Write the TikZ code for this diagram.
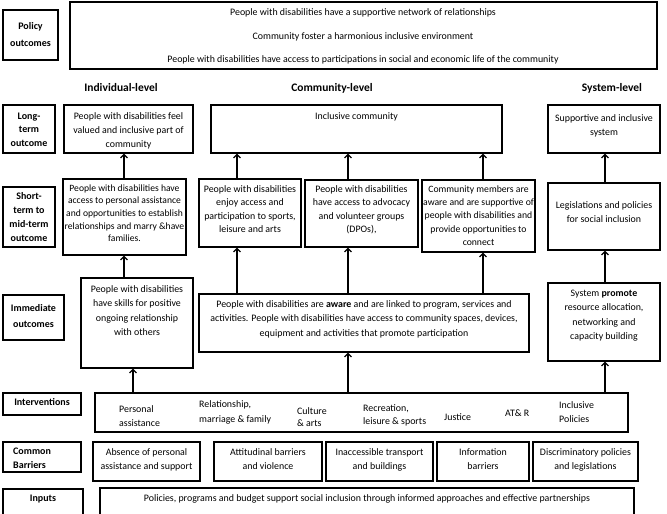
\documentclass[tikz,border=0pt]{standalone}
\usepackage{fontspec}
\setmainfont{Carlito}
\usetikzlibrary{fit,arrows.meta}
\begin{document}
\begin{tikzpicture}[x=1pt,y=-1pt,
  box/.style={draw=black, line width=1.05pt, inner sep=0pt, rectangle},
  txt/.style={inner sep=0pt, align=center, font=\fontsize{9.9}{#1}\selectfont},
  txt/.default=14,
  lbl/.style={inner sep=0pt, align=center, font=\bfseries\fontsize{10}{#1}\selectfont},
  lbl/.default=13.5,
  hdr/.style={inner sep=0pt, font=\bfseries\fontsize{11.5}{14}\selectfont},
  arr/.style={line width=1.3pt, -{Straight Barb[length=3.5pt,width=7pt]}}
]
\useasboundingbox (0,0) rectangle (667,514);
\clip (0,0) rectangle (667,514);

% columns for connectors
\coordinate (xA) at (124,0);
\coordinate (xB) at (133,0);
\coordinate (xC1) at (237,0);
\coordinate (xC2) at (348,0);
\coordinate (xC3) at (483,0);
\coordinate (xS) at (605,0);

% Policy outcomes
\node[box, fit={(3,10) (58,60)}] (polL) {};
\node[lbl=17] at (polL.center) {Policy\\outcomes};
\node[box, fit={(70,2) (657,69)}] (polB) {};
\node[txt] (p1) at (363,12.5) {People with disabilities have a supportive network of relationships};
\node[txt] (p2) at (363,36.5) {Community foster a harmonious inclusive environment};
\node[txt] (p3) at (363,60) {People with disabilities have access to participations in social and economic life of the community};

% headers
\node[hdr] (h1) at (121,88) {Individual-level};
\node[hdr] (h2) at (332,88) {Community-level};
\node[hdr] (h3) at (612,88) {System-level};

% Long-term
\node[box, fit={(3,105) (55,153)}] (ltL) {};
\node[lbl=13.5, anchor=north] at (29,112.4) {Long-\\term\\outcome};
\node[box, fit={(64,105) (193,153)}] (ltI) {};
\node[txt=14, anchor=north] at (128.5,112.4) {People with disabilities feel\\valued and inclusive part of\\community};
\node[box, fit={(211,105) (502,153)}] (ltC) {};
\node[txt] at (356.5,117) {Inclusive community};
\node[box, fit={(548,105) (660,153)}] (ltS) {};
\node[txt=14, anchor=north] at (604,114.4) {Supportive and inclusive\\system};

% Short to mid-term
\node[box, fit={(3,187) (55,247)}] (stL) {};
\node[lbl=14, anchor=north] at (29,192.4) {Short-\\term to\\mid-term\\outcome};
\node[box, fit={(63,179) (186,255)}] (stI) {};
\node[txt=12.6, anchor=north, font=\fontsize{9.6}{12.6}\selectfont] at (124.5,184.4) {People with disabilities have\\access to personal assistance\\and opportunities to establish\\relationships and marry \&have\\families.};
\node[box, fit={(199,179) (301,247)}] (stC1) {};
\node[txt=13.3, anchor=north] at (250,185.4) {People with disabilities\\enjoy access and\\participation to sports,\\leisure and arts};
\node[box, fit={(305,180) (418,247)}] (stC2) {};
\node[txt=13.3, anchor=north] at (361.5,185.4) {People with disabilities\\have access to advocacy\\and volunteer groups\\(DPOs),};
\node[box, fit={(422,180) (535,252)}] (stC3) {};
\node[txt=13.3, anchor=north, font=\fontsize{9.7}{13.3}\selectfont] at (478.5,185.4) {Community members are\\aware and are supportive of\\people with disabilities and\\provide opportunities to\\connect};
\node[box, fit={(548,183) (660,250)}] (stS) {};
\node[txt=14, anchor=north] at (604,201.4) {Legislations and policies\\for social inclusion};

% Immediate
\node[box, fit={(3,295) (64,340)}] (imL) {};
\node[lbl=16, anchor=north] at (33.5,304.4) {Immediate\\outcomes};
\node[box, fit={(81,278) (193,368)}] (imI) {};
\node[txt=14.5, anchor=north] at (137,285.4) {People with disabilities\\have skills for positive\\ongoing relationship\\with others};
\node[box, fit={(199,294) (529,352)}] (imC) {};
\node[txt=14.5, anchor=north] at (364,300.4) {People with disabilities are \textbf{aware} and are linked to program, services and\\activities. People with disabilities have access to community spaces, devices,\\equipment and activities that promote participation};
\node[box, fit={(548,283) (660,361)}] (imS) {};
\node[txt=14.5, anchor=north] at (604,289.4) {System \textbf{promote}\\resource allocation,\\networking and\\capacity building};

% Interventions
\node[box, fit={(3,393) (81,415)}] (inL) {};
\node[lbl] at (42,402) {Interventions};
\node[box, fit={(95,393) (628,432)}] (int) {};
\node[txt=14, align=left, anchor=north west] at (119,405.4) {Personal\\assistance};
\node[txt=15, align=left, anchor=north west] at (199,400.4) {Relationship,\\marriage \& family};
\node[txt=12.5, align=left, anchor=north west] at (297,407.4) {Culture\\\& arts};
\node[txt=13.5, align=left, anchor=north west] at (363,404.4) {Recreation,\\leisure \& sports};
\node[txt, anchor=west] at (444,417) {Justice};
\node[txt, anchor=west] at (505,413) {AT\& R};
\node[txt=14, align=left, anchor=north west] at (559,401.4) {Inclusive\\Policies};

% Common barriers
\node[box, fit={(3,442) (81,472)}] (cbL) {};
\node[lbl=13.5, align=left, anchor=north west] at (13,448) {Common\\Barriers};
\node[box, fit={(93,442) (200,481)}] (b1) {};
\node[txt=14, anchor=north] at (b1.north |- 0,448.4) {Absence of personal\\assistance and support};
\node[box, fit={(214,442) (322,481)}] (b2) {};
\node[txt=14, anchor=north] at (b2.north |- 0,448.4) {Attitudinal barriers\\and violence};
\node[box, fit={(326,442) (433,481)}] (b3) {};
\node[txt=14, anchor=north] at (b3.north |- 0,448.4) {Inaccessible transport\\and buildings};
\node[box, fit={(437,442) (529,481)}] (b4) {};
\node[txt=14, anchor=north] at (b4.north |- 0,448.4) {Information\\barriers};
\node[box, fit={(533,442) (638,481)}] (b5) {};
\node[txt=14, anchor=north] at (b5.north |- 0,448.4) {Discriminatory policies\\and legislations};

% Inputs
\node[box, fit={(3,489) (83,522)}] (ipL) {};
\node[lbl] at (43,499) {Inputs};
\node[box, fit={(100,488) (634,522)}] (ipB) {};
\node[txt] at (367,499) {Policies, programs and budget support social inclusion through informed approaches and effective partnerships};

% connectors
\draw[arr] (stI.north -| xA) -- (ltI.south -| xA);
\draw[arr] (imI.north -| xA) -- (stI.south -| xA);
\draw[arr] (int.north -| xB) -- (imI.south -| xB);
\draw[arr] (stC1.north -| xC1) -- (ltC.south -| xC1);
\draw[arr] (stC2.north -| xC2) -- (ltC.south -| xC2);
\draw[arr] (stC3.north -| xC3) -- (ltC.south -| xC3);
\draw[arr] (stS.north -| xS) -- (ltS.south -| xS);
\draw[arr] (imC.north -| xC1) -- (stC1.south -| xC1);
\draw[arr] (imC.north -| xC2) -- (stC2.south -| xC2);
\draw[arr] (imC.north -| xC3) -- (stC3.south -| xC3);
\draw[arr] (imS.north -| xS) -- (stS.south -| xS);
\draw[arr] (int.north -| xC2) -- (imC.south -| xC2);
\draw[arr] (int.north -| xS) -- (imS.south -| xS);
\end{tikzpicture}
\end{document}
